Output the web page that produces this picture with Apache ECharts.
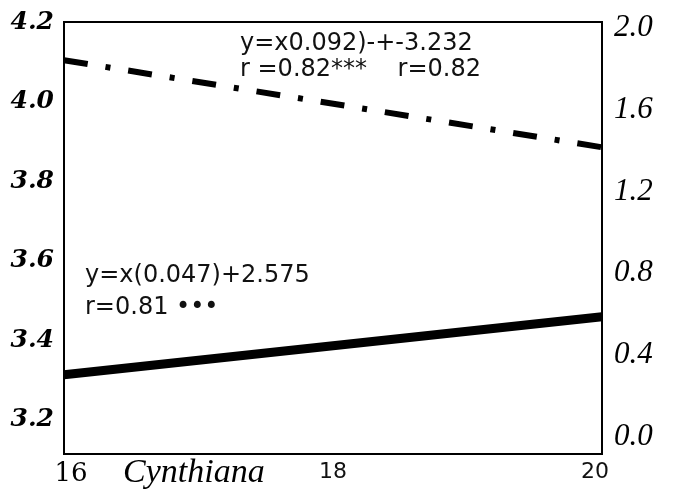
<!DOCTYPE html>
<html>
<head>
<meta charset="utf-8">
<script src="https://cdn.jsdelivr.net/npm/echarts@6/dist/echarts.min.js"></script>
<style>
  html, body { margin: 0; padding: 0; background: #fff; }
  #chart { width: 674px; height: 491px; }
</style>
</head>
<body>
<div id="chart"></div>
<script>
// x positions of the two regression lines
const xValues = [16, 20];
// left axis values
const dashDotValues = [4.104, 3.885];
const solidValues = [3.313, 3.459];

const xTicks = [16, 18, 20];
const leftTicks = [3.2, 3.4, 3.6, 3.8, 4.0, 4.2];
const rightTicks = [0.0, 0.4, 0.8, 1.2, 1.6, 2.0];

const eqTop = ["y=x0.092)-+-3.232", "r =0.82***    r=0.82"];
const eqBottom = ["y=x(0.047)+2.575", "r=0.81 \u2022\u2022\u2022"];

const chart = echarts.init(document.getElementById("chart"));

const toPairs = (vals) => xValues.map((x, i) => [x, vals[i]]);

const annoStyle = {
    fontFamily: "DejaVu Sans",
    fontSize: 24,
    fill: "#111",
    textVerticalAlign: "middle"
};

const option = {
    animation: false,
    grid: {
        left: 64,
        right: 72,
        top: 22,
        bottom: 37,
        show: true,
        borderColor: "#000",
        borderWidth: 2
    },
    xAxis: {
        type: "value",
        min: 16,
        max: 20,
        interval: 2,
        axisLine: { show: false },
        axisTick: { show: false },
        splitLine: { show: false },
        axisLabel: {
            margin: 7,
            fontSize: 22,
            customValues: xTicks,
            formatter: (v) => v === 16 ? `{serif|${v}}` : (v === 20 ? `{end|${v}}` : `{sans|${v}}`),
            rich: {
                serif: { fontFamily: "DejaVu Serif", fontSize: 26, color: "#000", padding: [0, 0, 0, 14] },
                sans: { fontFamily: "DejaVu Sans", fontSize: 22, color: "#111" },
                end: { fontFamily: "DejaVu Sans", fontSize: 22, color: "#111", padding: [0, 14, 0, 0] }
            }
        }
    },
    yAxis: [
        {
            type: "value",
            min: 3.114,
            max: 4.2,
            axisLine: { show: false },
            axisTick: { show: false },
            splitLine: { show: false },
            axisLabel: {
                customValues: leftTicks,
                margin: 10,
                formatter: (v) => v.toFixed(1),
                fontFamily: "DejaVu Serif",
                fontStyle: "italic",
                fontWeight: "bold",
                fontSize: 25,
                color: "#000"
            }
        },
        {
            type: "value",
            position: "right",
            min: -0.085,
            max: 2.03,
            axisLine: { show: false },
            axisTick: { show: false },
            splitLine: { show: false },
            axisLabel: {
                customValues: rightTicks,
                margin: 12,
                formatter: (v) => v.toFixed(1),
                fontFamily: "Liberation Serif",
                fontStyle: "italic",
                fontSize: 31,
                color: "#000"
            }
        }
    ],
    series: [
        {
            type: "line",
            data: toPairs(dashDotValues),
            symbol: "none",
            lineStyle: { color: "#000", width: 6, type: [24, 18, 5, 18], cap: "butt" }
        },
        {
            type: "line",
            data: toPairs(solidValues),
            symbol: "none",
            lineStyle: { color: "#000", width: 9, cap: "butt" }
        }
    ],
    graphic: [
        { type: "text", left: 240, top: 32, style: { ...annoStyle, text: eqTop[0] } },
        { type: "text", left: 240, top: 58, style: { ...annoStyle, text: eqTop[1] } },
        { type: "text", left: 85, top: 264, style: { ...annoStyle, text: eqBottom[0] } },
        { type: "text", left: 85, top: 296, style: { ...annoStyle, text: eqBottom[1] } },
        {
            type: "text",
            left: 123,
            top: 456,
            style: {
                text: "Cynthiana",
                fontFamily: "Liberation Serif",
                fontStyle: "italic",
                fontSize: 34,
                fill: "#000"
            }
        }
    ]
};

chart.setOption(option);
</script>
</body>
</html>
